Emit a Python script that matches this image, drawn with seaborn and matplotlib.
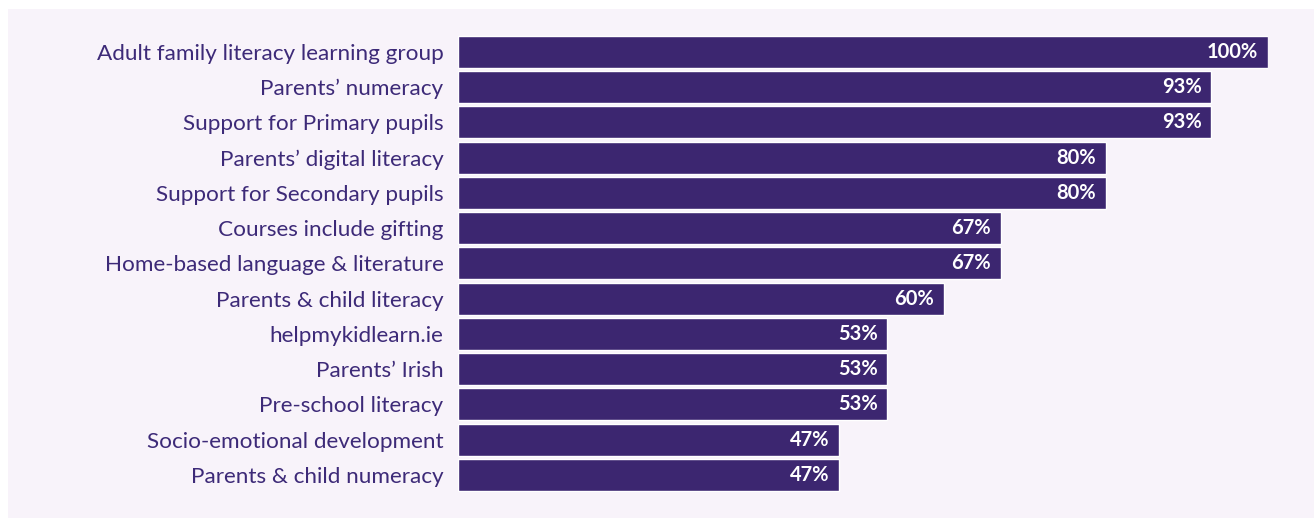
import matplotlib
matplotlib.use("Agg")
import matplotlib.pyplot as plt
import seaborn as sns
import pandas as pd
from matplotlib.patches import Rectangle

categories = [
    "Adult family literacy learning group",
    "Parents\u2019 numeracy",
    "Support for Primary pupils",
    "Parents\u2019 digital literacy",
    "Support for Secondary pupils",
    "Courses include gifting",
    "Home-based language & literature",
    "Parents & child literacy",
    "helpmykidlearn.ie",
    "Parents\u2019 Irish",
    "Pre-school literacy",
    "Socio-emotional development",
    "Parents & child numeracy",
]
values = [100, 93, 93, 80, 80, 67, 67, 60, 53, 53, 53, 47, 47]

bar_color = "#3c2670"
text_color = "#3d2a78"
panel_color = "#f8f3fa"

df = pd.DataFrame({"category": categories, "value": values})

sns.set_style("white")
plt.rcParams['font.family'] = ["Lato", "DejaVu Sans"]

fig = plt.figure(figsize=(13.14, 5.18), dpi=100)
fig.patch.set_facecolor("white")
# lavender panel behind the chart
fig.patches.append(Rectangle((8 / 1314, 0), 1 - 8 / 1314, 1 - 9 / 518,
                             transform=fig.transFigure, facecolor=panel_color,
                             edgecolor="none", zorder=-10))

ax = fig.add_axes([458 / 1314, 0.0494, 810 / 1314, 0.9337 - 0.0494])
ax.set_facecolor("none")

sns.barplot(data=df, x="value", y="category", ax=ax, color=bar_color,
            saturation=1, width=0.905, orient="h")

ax.set_xlim(0, 100)
ax.set_ylim(len(categories) - 0.5, -0.5)
for s in ax.spines.values():
    s.set_visible(False)
ax.set_xticks([])
ax.set_xlabel("")
ax.set_ylabel("")
ax.tick_params(axis="y", length=0, pad=10.5, labelsize=16.2, labelcolor=text_color)

for i, v in enumerate(values):
    ax.text(v - 1.2, i, "%d%%" % v, ha="right", va="center",
            color="white", fontsize=14.5, fontweight="bold")

fig.savefig("out.png", dpi=100, facecolor=fig.get_facecolor())
